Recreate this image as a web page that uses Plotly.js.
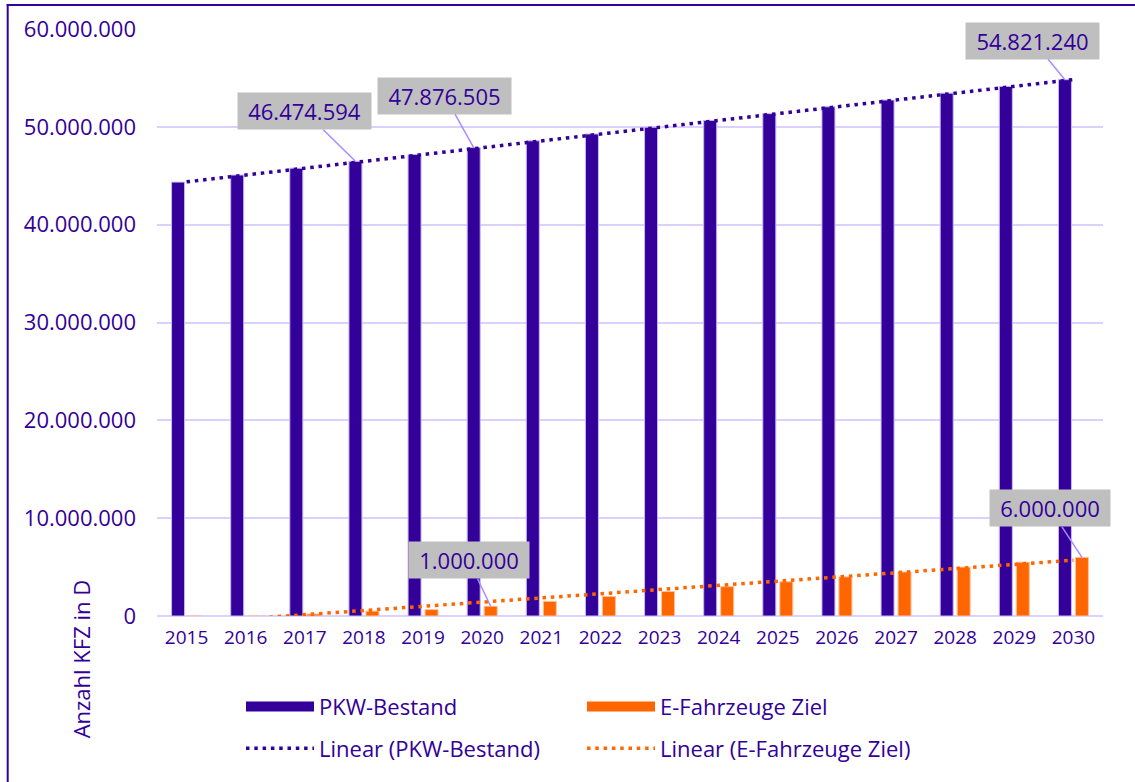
<!DOCTYPE html>
<html>
<head>
<meta charset="utf-8">
<script src="https://cdn.plot.ly/plotly-3.0.1.min.js"></script>
<style>
  html, body { margin: 0; padding: 0; background: #ffffff; }
  #chart { width: 1135px; height: 782px; }
</style>
</head>
<body>
<div id="chart"></div>
<script>
// ---- data ----
const years = ['2015','2016','2017','2018','2019','2020','2021','2022','2023','2024','2025','2026','2027','2028','2029','2030'];
const pkwBestand = [44350000, 45070000, 45770000, 46474594, 47180000, 47876505, 48570000, 49270000,
                    49960000, 50660000, 51350000, 52050000, 52740000, 53440000, 54130000, 54821240];
const eFahrzeugeZiel = [0, 0, 200000, 500000, 650000, 1000000, 1500000, 2000000,
                        2500000, 3000000, 3500000, 4000000, 4500000, 5000000, 5500000, 6000000];
const yTickValues = [0, 10000000, 20000000, 30000000, 40000000, 50000000, 60000000];
const yTickLabels = ['0', '10.000.000', '20.000.000', '30.000.000', '40.000.000', '50.000.000', '60.000.000'];
const seriesNames = ['PKW-Bestand', 'E-Fahrzeuge Ziel'];
const trendNames = ['Linear (PKW-Bestand)', 'Linear (E-Fahrzeuge Ziel)'];
const labelledPoints = [
  {series: 0, year: '2018', ax: -51, ay: -50},
  {series: 0, year: '2020', ax: -29, ay: -52},
  {series: 0, year: '2030', ax: -32, ay: -39},
  {series: 1, year: '2020', ax: -22, ay: -46},
  {series: 1, year: '2030', ax: -32, ay: -49}
];

// ---- styling ----
const PURPLE = '#330099';
const ORANGE = '#FF6600';
const GRID = '#DCD0FF';
const FONT = 'Open Sans, Noto Sans, sans-serif';

// Excel-style linear trendline (least squares over category index)
function linearTrend(vals) {
  const n = vals.length;
  let sx = 0, sy = 0, sxy = 0, sxx = 0;
  vals.forEach((v, i) => { sx += i; sy += v; sxy += i * v; sxx += i * i; });
  const slope = (n * sxy - sx * sy) / (n * sxx - sx * sx);
  const icpt = (sy - slope * sx) / n;
  return vals.map((v, i) => icpt + slope * i);
}
function fmtDE(v) {
  return Math.round(v).toString().replace(/\B(?=(\d{3})+(?!\d))/g, '.');
}

const seriesVals = [pkwBestand, eFahrzeugeZiel];
const seriesColors = [PURPLE, ORANGE];
const outlineColors = ['#C9B8F5', '#FFC29A'];

const traces = [];
seriesVals.forEach((vals, s) => {
  traces.push({
    type: 'bar', x: years, y: vals, name: seriesNames[s], showlegend: false,
    marker: {color: seriesColors[s], line: {color: outlineColors[s], width: 1}},
    hoverinfo: 'x+y'
  });
});
// legend swatches for the bars (no visible data)
seriesVals.forEach((vals, s) => {
  traces.push({
    type: 'scatter', mode: 'lines', x: [years[0]], y: [null], name: seriesNames[s],
    legend: 'legend', line: {color: seriesColors[s], width: 13}, hoverinfo: 'skip'
  });
});
// trendlines
seriesVals.forEach((vals, s) => {
  traces.push({
    type: 'scatter', mode: 'lines', x: years, y: linearTrend(vals), name: trendNames[s],
    legend: 'legend2', line: {color: seriesColors[s], width: 3.5, dash: '3.5px,4.8px'}, hoverinfo: 'skip'
  });
});

const annotations = labelledPoints.map(p => {
  const idx = years.indexOf(p.year);
  const v = seriesVals[p.series][idx];
  const txt = fmtDE(v);
  return {
    x: idx, y: v, xref: 'x', yref: 'y',
    xshift: p.series === 0 ? -8.5 : 8.5,
    text: txt, showarrow: true, arrowhead: 0, arrowwidth: 1.5, arrowcolor: '#A98CFF',
    ax: p.ax, ay: p.ay, standoff: 0, startstandoff: 0,
    bgcolor: '#BFBFBF', borderpad: 3, width: txt.length >= 10 ? 127 : 114, height: 30,
    font: {family: FONT, size: 22, color: PURPLE}
  };
});
// y-axis title placed like the reference (bottom-left, rotated)
annotations.push({
  xref: 'paper', yref: 'paper', x: (80.5 - 157) / 946, y: (618 - 661) / 589,
  xanchor: 'center', yanchor: 'middle', textangle: -90, showarrow: false,
  text: 'Anzahl KFZ in D', font: {family: FONT, size: 22, color: PURPLE}
});

const px2x = px => (px - 157) / 946;
const px2y = py => (618 - py) / 589;

const legendCommon = {
  orientation: 'h', xanchor: 'left', yanchor: 'middle',
  itemwidth: 68, entrywidth: 258, entrywidthmode: 'pixels',
  font: {family: FONT, size: 22, color: PURPLE}, bgcolor: 'rgba(0,0,0,0)',
  itemclick: false, itemdoubleclick: false
};

const layout = {
  width: 1135, height: 782,
  margin: {l: 157, r: 32, t: 29, b: 164, pad: 0},
  paper_bgcolor: '#ffffff', plot_bgcolor: '#ffffff',
  font: {family: FONT, color: PURPLE, size: 22},
  barmode: 'group', bargap: 0.425, bargroupgap: 0.235,
  showlegend: true,
  legend: Object.assign({}, legendCommon, {x: px2x(241), y: px2y(709)}),
  legend2: Object.assign({}, legendCommon, {x: px2x(241), y: px2y(751)}),
  xaxis: {
    type: 'category', categoryorder: 'array', categoryarray: years, range: [-0.5, years.length - 0.5],
    tickfont: {family: FONT, size: 19, color: PURPLE},
    showgrid: false, showline: false, ticks: '', ticklabelstandoff: 8, fixedrange: true
  },
  yaxis: {
    range: [0, 60000000], tickvals: yTickValues, ticktext: yTickLabels,
    tickfont: {family: FONT, size: 22, color: PURPLE},
    showgrid: true, gridcolor: GRID, gridwidth: 1.6,
    zeroline: true, zerolinecolor: GRID, zerolinewidth: 2.2,
    showline: false, ticks: '', ticklabelstandoff: 20, fixedrange: true
  },
  annotations: annotations,
  shapes: [
    {type: 'line', xref: 'paper', yref: 'paper', x0: px2x(7.7), x1: px2x(7.7), y0: px2y(4), y1: px2y(790),
     line: {color: PURPLE, width: 2}},
    {type: 'line', xref: 'paper', yref: 'paper', x0: px2x(6.7), x1: px2x(1140), y0: px2y(5), y1: px2y(5),
     line: {color: PURPLE, width: 2}}
  ]
};

Plotly.newPlot('chart', traces, layout, {displayModeBar: false, responsive: false});
</script>
</body>
</html>
